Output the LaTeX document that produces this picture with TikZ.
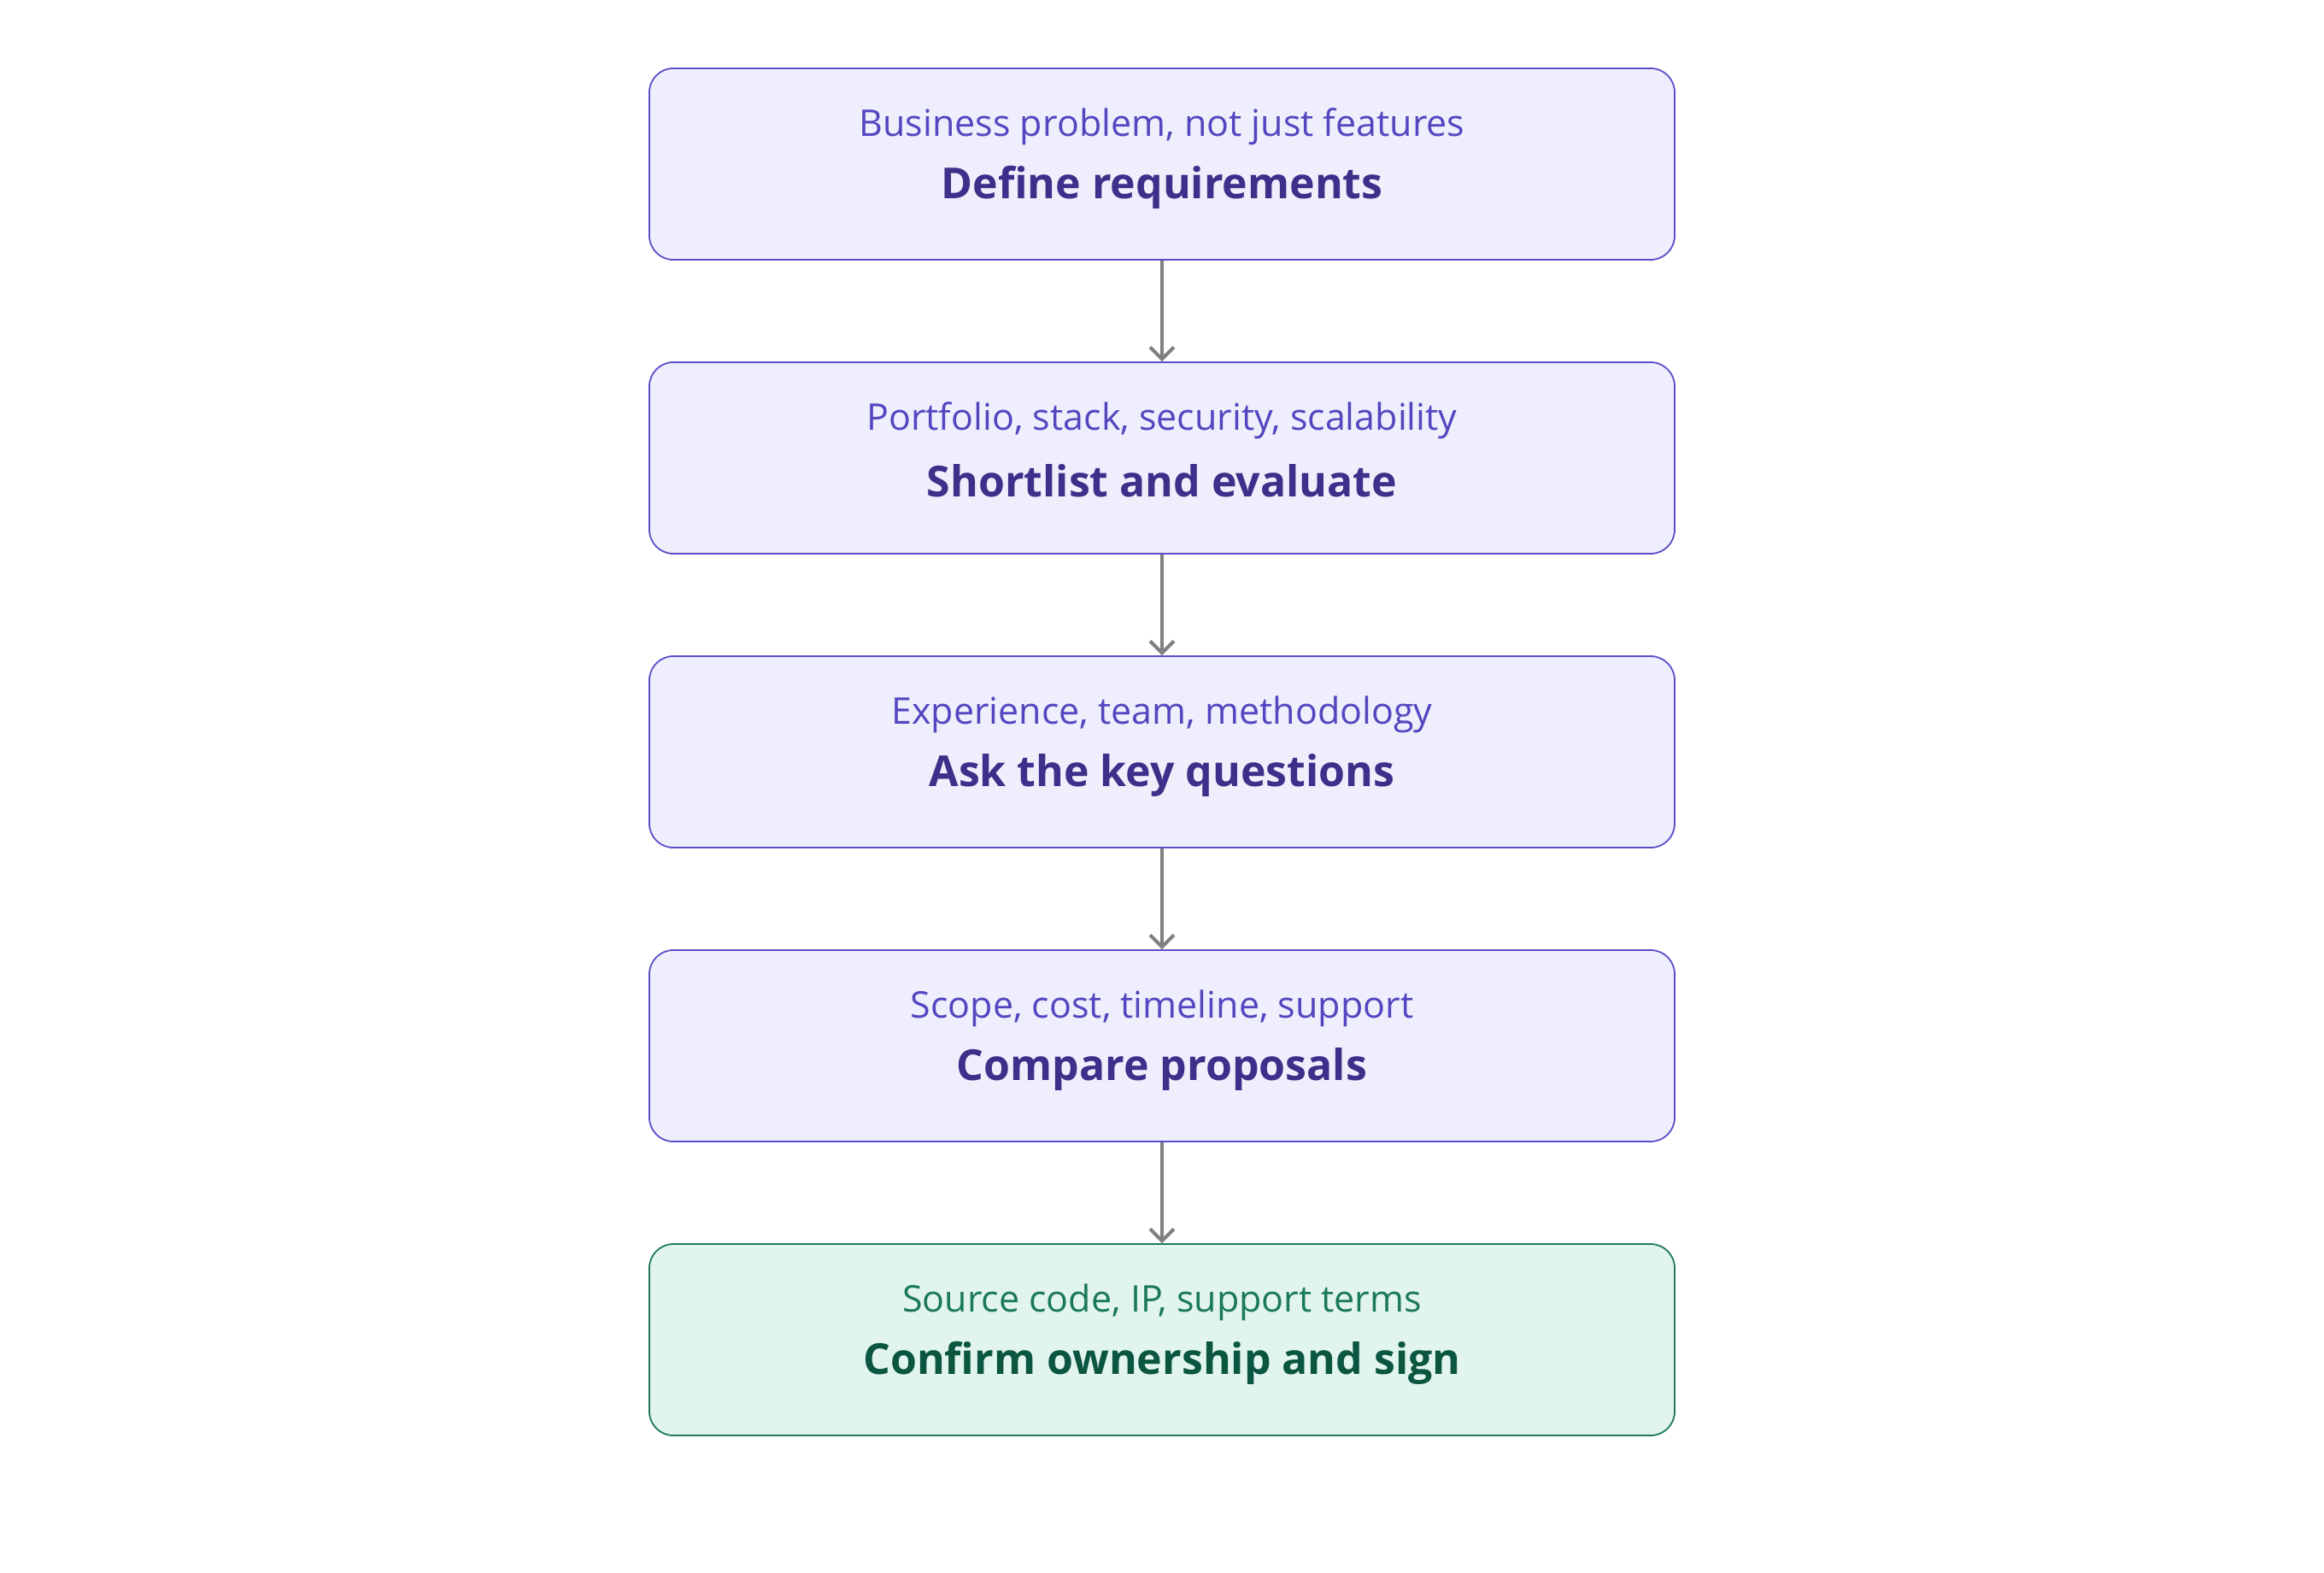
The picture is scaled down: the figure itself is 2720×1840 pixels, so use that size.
\documentclass[tikz,border=0pt]{standalone}
\usepackage{fontspec}
\setmainfont{Open Sans}
\usetikzlibrary{arrows.meta}
\definecolor{pfill}{HTML}{EEEEFC}
\definecolor{pdraw}{HTML}{5B4FC8}
\definecolor{ptitle}{HTML}{3D2F8A}
\definecolor{psub}{HTML}{5346C0}
\definecolor{gfill}{HTML}{E1F4EE}
\definecolor{gdraw}{HTML}{1F7A55}
\definecolor{gtitle}{HTML}{0B5640}
\definecolor{gsub}{HTML}{1A7A55}
\begin{document}
\begin{tikzpicture}[x=1pt,y=-1pt,
  box/.style={draw=pdraw,fill=pfill,line width=1.8pt,rounded corners=28pt,minimum width=1200pt,minimum height=224pt,inner sep=0pt},
  gbox/.style={box,draw=gdraw,fill=gfill},
  ttl/.style={text=ptitle,font=\fontsize{50}{60}\selectfont\bfseries},
  sub/.style={text=psub,font=\fontsize{43}{52}\selectfont},
  gttl/.style={ttl,text=gtitle},
  gsb/.style={sub,text=gsub},
  arr/.style={draw=black!50,line width=4.5pt,-{Straight Barb[length=14pt,width=28pt,line width=4pt]}}]
\useasboundingbox (0,0) rectangle (2720,1840);
\def\steps{{"Define requirements","Shortlist and evaluate","Ask the key questions","Compare proposals"}}
\node[box] (b1) at (1360,192) {};
\node[box] (b2) at (1360,536) {};
\node[box] (b3) at (1360,880) {};
\node[box] (b4) at (1360,1224) {};
\node[gbox] (b5) at (1360,1568) {};
\node[ttl] (t1) at ([yshift=-27pt]b1.center) {Define requirements};
\node[sub] (s1) at ([yshift=44pt]b1.center) {Business problem, not just features};
\node[ttl] (t2) at ([yshift=-27pt]b2.center) {Shortlist and evaluate};
\node[sub] (s2) at ([yshift=44pt]b2.center) {Portfolio, stack, security, scalability};
\node[ttl] (t3) at ([yshift=-27pt]b3.center) {Ask the key questions};
\node[sub] (s3) at ([yshift=44pt]b3.center) {Experience, team, methodology};
\node[ttl] (t4) at ([yshift=-27pt]b4.center) {Compare proposals};
\node[sub] (s4) at ([yshift=44pt]b4.center) {Scope, cost, timeline, support};
\node[gttl] (t5) at ([yshift=-27pt]b5.center) {Confirm ownership and sign};
\node[gsb] (s5) at ([yshift=44pt]b5.center) {Source code, IP, support terms};
\draw[arr] (b1.south) -- (b2.north);
\draw[arr] (b2.south) -- (b3.north);
\draw[arr] (b3.south) -- (b4.north);
\draw[arr] (b4.south) -- (b5.north);
\end{tikzpicture}
\end{document}
